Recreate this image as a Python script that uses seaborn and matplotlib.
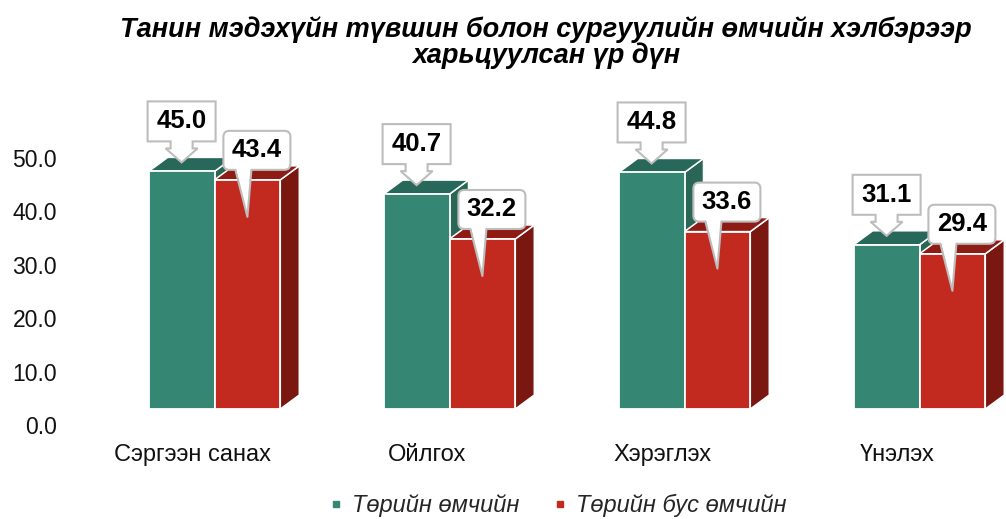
import numpy as np
import pandas as pd
import matplotlib
matplotlib.use("Agg")
import matplotlib.pyplot as plt
import seaborn as sns
from matplotlib.patches import Polygon, FancyBboxPatch
from matplotlib.lines import Line2D
from matplotlib.transforms import IdentityTransform

# data
categories = ["Сэргээн санах", "Ойлгох", "Хэрэглэх", "Үнэлэх"]
series = ["Төрийн өмчийн", "Төрийн бус өмчийн"]
state_vals = [45.0, 40.7, 44.8, 31.1]
private_vals = [43.4, 32.2, 33.6, 29.4]
yticks = [0, 10, 20, 30, 40, 50]
title = "Танин мэдэхүйн түвшин болон сургуулийн өмчийн хэлбэрээр\nхарьцуулсан үр дүн"

front = {"Төрийн өмчийн": "#358672", "Төрийн бус өмчийн": "#C22A1F"}
top_c = {"Төрийн өмчийн": "#27685A", "Төрийн бус өмчийн": "#8E1C14"}
side_c = {"Төрийн өмчийн": "#2A6656", "Төрийн бус өмчийн": "#7A1711"}

sns.set_theme(style="white")
plt.rcParams["font.family"] = ["Liberation Sans", "DejaVu Sans"]

W, H = 1006, 519
fig = plt.figure(figsize=(W / 100, H / 100), dpi=100)

df = pd.DataFrame({
    "cat": categories * 2,
    "value": state_vals + private_vals,
    "type": [series[0]] * 4 + [series[1]] * 4,
})

# axis with the tick labels (Excel puts it on a different plane)
ax_t = fig.add_axes([75 / W, 94 / H, 940 / W, 320.4 / H])
ax_t.set_xlim(-0.5, 3.5)
ax_t.set_ylim(0, 60)
ax_t.set_yticks(yticks)
ax_t.set_yticklabels([f"{v:.1f}" for v in yticks], fontsize=16.5, color="#111111")
ax_t.set_xticks(range(len(categories)))
ax_t.set_xticklabels(categories, fontsize=17, color="#111111")
ax_t.tick_params(axis="y", length=0, pad=13)
ax_t.tick_params(axis="x", length=0, pad=14)
for s in ax_t.spines.values():
    s.set_visible(False)

# axis with the bar front faces
ax = fig.add_axes([97 / W, 110 / H, 940 / W, 316.8 / H])
ax.patch.set_alpha(0)
sns.barplot(data=df, x="cat", y="value", hue="type", palette=front,
            width=0.56, saturation=1, edgecolor="white", linewidth=1.3,
            legend=False, ax=ax)
ax.set_xlim(-0.5, 3.5)
ax.set_ylim(0, 60)
ax.axis("off")

# 3d depth, in pixels
p0 = ax.transData.transform((0, 0))
p1 = ax.transData.transform((1, 1))
dx = 19 / (p1[0] - p0[0])
dy = 14 / (p1[1] - p0[1])

bars = []
for p in list(ax.patches):
    x0 = p.get_x()
    w = p.get_width()
    h = p.get_height()
    xc = x0 + w / 2
    kind = series[0] if xc < round(xc) else series[1]
    bars.append((kind, x0, w, h))
    base_z = 2 if kind == series[0] else 5
    p.set_zorder(base_z + 1)
    side = Polygon([(x0 + w, 0), (x0 + w + dx, dy), (x0 + w + dx, h + dy), (x0 + w, h)],
                   closed=True, fc=side_c[kind], ec="white", lw=1.1, zorder=base_z)
    top = Polygon([(x0, h), (x0 + dx, h + dy), (x0 + w + dx, h + dy), (x0 + w, h)],
                  closed=True, fc=top_c[kind], ec="white", lw=1.1, zorder=base_z)
    ax.add_patch(side)
    ax.add_patch(top)

# callout labels, drawn in pixel space
edge = "#BDBDBD"
ident = IdentityTransform()
for kind, x0, w, h in bars:
    axp, ayp = ax.transData.transform((x0 + w / 2, h))
    if kind == series[0]:
        tip = ayp + 9
        B = ayp + 30
        T = B + 40
        L, R = axp - 34, axp + 34
        S = B - 7
        sw, hw = 11, 16
        pts = [(L, T), (R, T), (R, B), (axp + sw, B), (axp + sw, S), (axp + hw, S),
               (axp, tip), (axp - hw, S), (axp - sw, S), (axp - sw, B), (L, B)]
        fig.add_artist(Polygon(pts, closed=True, fc="white", ec=edge, lw=1.5,
                               transform=ident, zorder=5))
        cx, cy = axp, (B + T) / 2
    else:
        tip = ayp - 37
        B = ayp + 10
        T = B + 39
        cx = axp + 9.5
        L, R = cx - 33.5, cx + 33.5
        fig.add_artist(FancyBboxPatch((L, B), R - L, T - B,
                                      boxstyle="round,pad=0,rounding_size=6",
                                      fc="white", ec=edge, lw=1.5,
                                      transform=ident, zorder=5))
        wl, wr = axp - 12, axp + 4
        fig.add_artist(Polygon([(wl, B + 3), (wr, B + 3), (axp, tip)], closed=True,
                               fc="white", ec="none", transform=ident, zorder=6))
        fig.add_artist(Line2D([wl, axp, wr], [B, tip, B], color=edge, lw=1.5,
                              transform=ident, zorder=6))
        cy = (B + T) / 2
    fig.text(cx, cy, f"{h:.1f}", transform=ident, ha="center", va="center",
             fontsize=18.5, fontweight="bold", color="black", zorder=7)

fig.text(0.543, 0.918, title, ha="center", va="center", fontsize=19.5,
         fontweight="bold", fontstyle="italic", linespacing=0.98, color="black")

handles = [Line2D([], [], marker="s", ls="", markersize=4.5, color=front[s]) for s in series]
fig.legend(handles, series, loc="center", bbox_to_anchor=(0.553, 0.026), ncol=2,
           frameon=False, prop={"size": 17, "style": "italic"},
           handletextpad=0.3, columnspacing=1.3, handlelength=0.8)

fig.savefig("out.png", dpi=100)
